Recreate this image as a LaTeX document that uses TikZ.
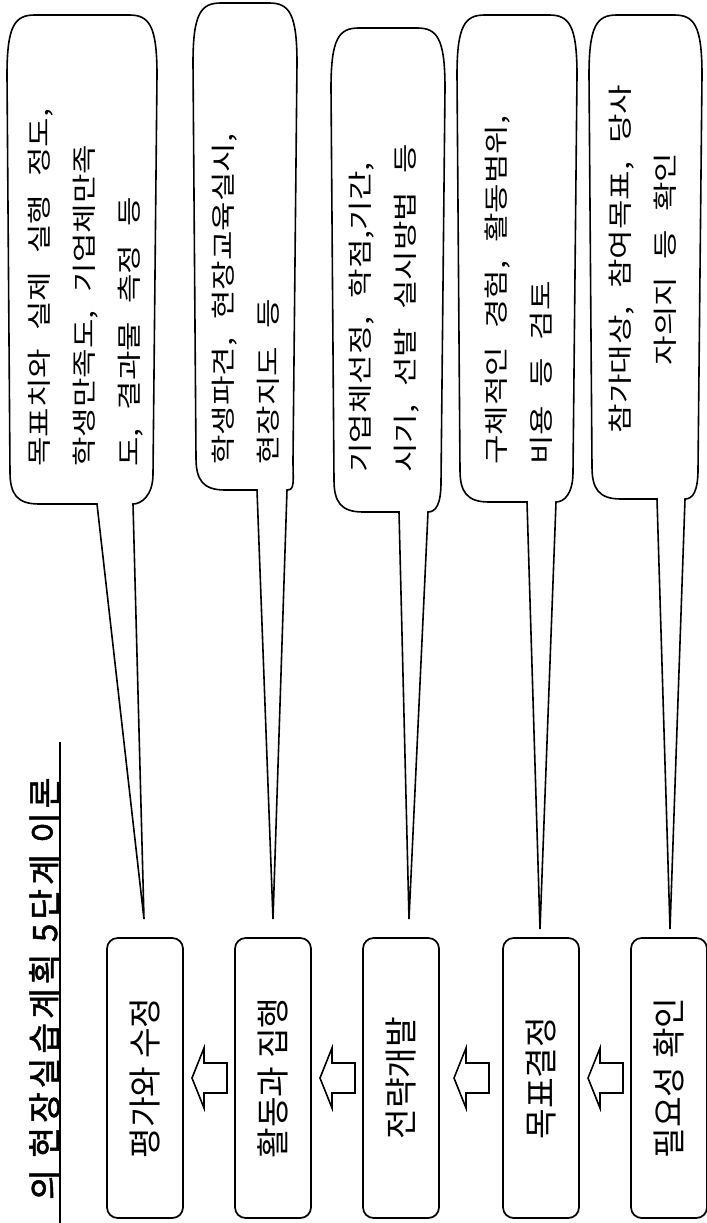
\documentclass[tikz,border=0pt]{standalone}
\usepackage{fontspec}
\usepackage{graphicx}
\usepackage{tikz}
\usetikzlibrary{calc}
\newfontfamily\stagefont{Noto Sans CJK KR}
\newfontfamily\notefont[FakeStretch=1.3,WordSpace=2.5]{Noto Sans CJK KR}
\newfontfamily\headfont[FakeBold=1.5,LetterSpace=12]{Noto Sans CJK KR}
\tikzset{
         stage/.style={rectangle,draw,rounded corners=8pt,line width=1.3pt,minimum width=57pt,minimum height=210pt,inner sep=0pt,
                       font=\stagefont\fontsize{25pt}{30pt}\selectfont},
         bubble/.style={draw,line width=1.2pt},
         note/.style={rotate=90,inner sep=0pt,font=\notefont\fontsize{18.5pt}{33.75pt}\selectfont},
         stagearrow/.pic={\draw[line width=1.2pt,fill=white](-17,0)--(-5,-30)--(-5,-15)--(18,-15)--(18,15)--(-5,15)--(-5,30)--cycle;}
        }
% left, right, top, bottom, tail left, tail right, tip
\newcommand{\callout}[7]{%
\draw[bubble](#1,#3+60) .. controls (#1,#3+10) and (#1+8,#3) .. (#1+28,#3)--(#2-28,#3)
 .. controls (#2-8,#3) and (#2,#3+10) .. (#2,#3+60)--(#2-4,#4-30)
 .. controls (#2-4,#4-8) and (#6+8,#4) .. (#6,#4)--(#7)--(#5,#4)--(#1+32,#4)
 .. controls (#1+10,#4) and (#1+3,#4-10) .. (#1+3,#4-32)--cycle;}

\begin{document}
\begin{tikzpicture}[x=0.75pt,y=-0.75pt]
\useasboundingbox(0,0)rectangle(706,1223);
%title
\node[rotate=90,anchor=base west,inner sep=0pt,font=\headfont\fontsize{25pt}{30pt}\selectfont](title)at(57,1200){의 현장실습계획 5단계 이론};
\draw[line width=1.2pt](60,742)--(60,1223); %underline
%stages
\node[stage](eval)at(145,1078){\rotatebox{90}{평가와 수정}};
\node[stage](exec)at(273,1078){\rotatebox{90}{활동과 집행}};
\node[stage](strat)at(401,1078){\rotatebox{90}{전략개발}};
\node[stage](goal)at(541,1078){\rotatebox{90}{목표결정}};
\node[stage](need)at(669,1078){\rotatebox{90}{필요성 확인}};
%arrows
\pic at($(eval)!.5!(exec)$){stagearrow};
\pic at($(exec)!.5!(strat)$){stagearrow};
\pic at($(strat)!.5!(goal)$){stagearrow};
\pic at($(goal)!.5!(need)$){stagearrow};
%callout tips
\coordinate(t1)at($(eval.north)+(-1,-18)$);
\coordinate(t2)at($(exec.north)+(0,-18)$);
\coordinate(t3)at($(strat.north)+(8,-18)$);
\coordinate(t4)at($(goal.north)+(-1,-8)$);
\coordinate(t5)at($(need.north)+(1,-8)$);
%callouts
\callout{7}{157}{15}{504}{97}{133}{t1}
\callout{193}{297}{3}{490}{257}{287}{t2}
\callout{331}{445}{28}{512}{399}{428}{t3}
\callout{457}{577}{15}{502}{527}{556}{t4}
\callout{589}{702}{15}{499}{657}{685}{t5}
%callout texts
\node[note,anchor=west,align=left](n1)at(86,467){목표치와 실제 실행 정도,\\학생만족도, 기업체만족\\도, 결과물 측정 등};
\node[note,anchor=west,align=left](n2)at(246,465){학생파견, 현장교육실시,\\현장지도 등};
\node[note,anchor=west,align=left](n3)at(384,473){기업체선정, 학점,기간,\\시기, 선발 실시방법 등};
\node[note,anchor=west,align=left](n4)at(519,465){구체적인 경험, 활동범위,\\비용 등 검토};
\node[note,align=center](n5)at(643,259){참가대상, 참여목표, 당사\\자의지 등 확인};
\end{tikzpicture}
\end{document}
